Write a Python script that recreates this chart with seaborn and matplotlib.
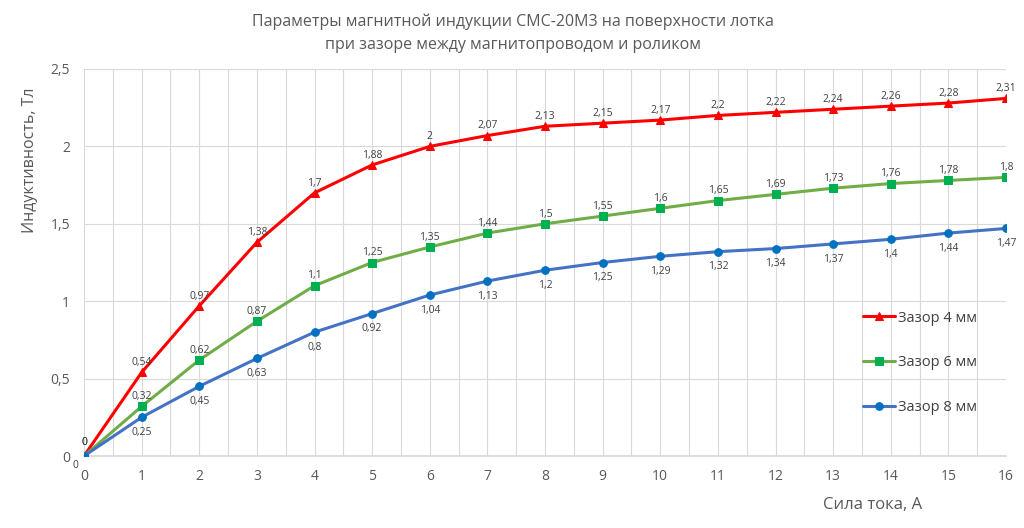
import matplotlib
matplotlib.use("Agg")
import matplotlib.pyplot as plt
import seaborn as sns
import pandas as pd
import numpy as np

current = list(range(0, 17))
gap4 = [0, 0.54, 0.97, 1.38, 1.7, 1.88, 2, 2.07, 2.13, 2.15, 2.17, 2.2, 2.22, 2.24, 2.26, 2.28, 2.31]
gap6 = [0, 0.32, 0.62, 0.87, 1.1, 1.25, 1.35, 1.44, 1.5, 1.55, 1.6, 1.65, 1.69, 1.73, 1.76, 1.78, 1.8]
gap8 = [0, 0.25, 0.45, 0.63, 0.8, 0.92, 1.04, 1.13, 1.2, 1.25, 1.29, 1.32, 1.34, 1.37, 1.4, 1.44, 1.47]
series_names = ["Зазор 4 мм", "Зазор 6 мм", "Зазор 8 мм"]
y_ticks = [0, 0.5, 1, 1.5, 2, 2.5]
title = "Параметры магнитной индукции СМС-20М3 на поверхности лотка\nпри зазоре между магнитопроводом и роликом"
xlabel = "Сила тока, А"
ylabel = "Индуктивность, Тл"

sns.set_theme(style="white")
plt.rcParams['font.family'] = ['Open Sans', 'DejaVu Sans']

df = pd.DataFrame({
    "x": current * 3,
    "y": gap4 + gap6 + gap8,
    "s": [series_names[0]] * 17 + [series_names[1]] * 17 + [series_names[2]] * 17,
})

fig = plt.figure(figsize=(10.24, 5.28), dpi=100)
ax = fig.add_axes([84 / 1024, 1 - 456 / 528, (1006 - 84) / 1024, (456 - 69) / 528])

line_colors = ["#FF0000", "#70AD47", "#4472C4"]
marker_colors = ["#FF0000", "#00B050", "#0070C0"]
markers = ["^", "s", "o"]
offsets = [7, 7, -11]

for name, lc, mc, mk, off in zip(series_names, line_colors, marker_colors, markers, offsets):
    sub = df[df["s"] == name]
    sns.lineplot(data=sub, x="x", y="y", ax=ax, color=lc, linewidth=2.2,
                 marker=mk, markersize=5.5, markerfacecolor=mc, markeredgecolor=mc,
                 label=name, zorder=3)
    for xv, yv in zip(sub["x"], sub["y"]):
        txt = ("%g" % yv).replace(".", ",")
        dx, dy = 0, off
        if xv == 0 and off < 0:
            dx, dy = -6, -7
        elif xv == 0:
            dx, dy = 0, 10
        ax.annotate(txt, (xv, yv), xytext=(dx, dy), textcoords="offset points",
                    ha="center", va="center", fontsize=7.5, color="#404040")

ax.set_xlim(0, 16)
ax.set_ylim(0, 2.5)
ax.set_xticks(range(0, 17))
ax.set_xticks(np.arange(0.5, 16, 1), minor=True)
ax.set_yticks(y_ticks)
ax.set_yticklabels([("%g" % v).replace(".", ",") for v in y_ticks])
ax.grid(True, which="major", color="#D9D9D9", linewidth=0.8)
ax.grid(True, which="minor", axis="x", color="#D9D9D9", linewidth=0.8)
ax.tick_params(axis="both", which="both", length=0, colors="#595959", labelsize=10)
ax.tick_params(axis="x", pad=9)
ax.tick_params(axis="y", pad=10)
for sp in ["top", "right", "left"]:
    ax.spines[sp].set_visible(False)
ax.spines["bottom"].set_color("#D9D9D9")
ax.set_xlabel("")
ax.set_ylabel("")

fig.text(513 / 1024, 1 - 33 / 528, title, ha="center", va="center", fontsize=11.5, color="#595959",
         linespacing=1.55)
fig.text(30 / 1024, 1 - 160 / 528, ylabel, ha="center", va="center", rotation=90,
         fontsize=11.5, color="#595959")
fig.text(873 / 1024, 1 - 505 / 528, xlabel, ha="center", va="center", fontsize=12, color="#595959")

leg = ax.legend(loc="center left", frameon=False,
                fontsize=10.5, labelspacing=2.05, handlelength=2.2, handletextpad=0.2)
leg.set_bbox_to_anchor((850 / 1024, 1 - 363 / 528), transform=fig.transFigure)
for t in leg.get_texts():
    t.set_color("#404040")

fig.savefig("out.png", dpi=100, facecolor="white")
